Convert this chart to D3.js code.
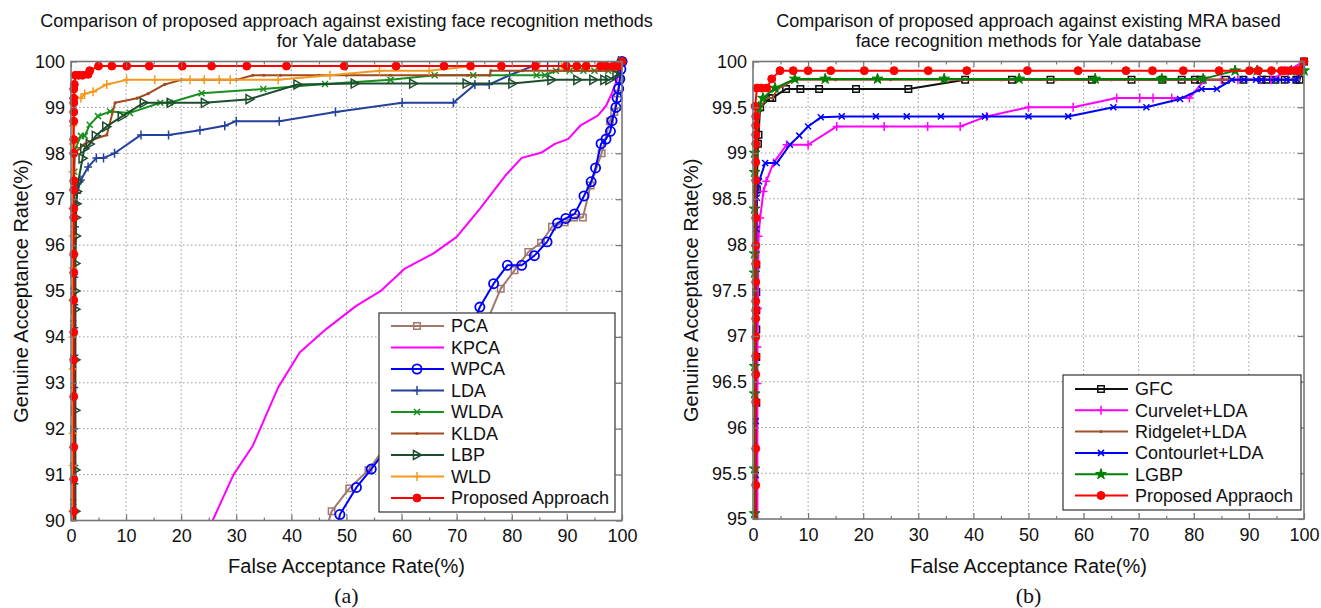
<!DOCTYPE html>
<html lang="en">
<head>
  <meta charset="UTF-8" />
  <title>Yale database ROC comparison</title>
  <script src="https://cdn.jsdelivr.net/npm/d3@7"></script>
  <style>
    body { margin: 0; background: #fff; }
    svg { display: block; font-family: Arial, "Liberation Sans", Helvetica, sans-serif; }
    .tick text { font-size: 18px; fill: #111; }
  </style>
</head>
<body>
<svg id="chart" width="1321" height="608"></svg>
<script>
// ---- data: [FAR %, GAR %] ----
var xTicks = [0, 10, 20, 30, 40, 50, 60, 70, 80, 90, 100];
var yTicksA = [90, 91, 92, 93, 94, 95, 96, 97, 98, 99, 100];
var yTicksB = [95, 95.5, 96, 96.5, 97, 97.5, 98, 98.5, 99, 99.5, 100];

var namesA = ["PCA", "KPCA", "WPCA", "LDA", "WLDA", "KLDA", "LBP", "WLD", "Proposed Approach"];
var namesB = ["GFC", "Curvelet+LDA", "Ridgelet+LDA", "Contourlet+LDA", "LGBP", "Proposed Appraoch"];

var pca = [[46.3,89.8],[47.3,90.2],[50.5,90.7],[54,91.1],[57,91.6],[60,92.1],[63,92.6],[66,93.0],[69,93.4],[72,93.8],[75,94.2],
  [78,95.05],[80.5,95.45],[83,95.85],[85.3,96.05],[87.3,96.4],[89.6,96.5],[91.3,96.6],[92.9,96.6],[94.3,97.3],[96.3,98.0],
  [97.8,98.7],[98.6,98.9],[99.2,99.3],[99.6,99.6],[100,100]];
var kpca = [[25.5,89.9],[25.7,90],[29.5,91.0],[33,91.63],[37.6,92.9],[41.5,93.66],[46.3,94.17],[51.7,94.67],[56.3,95.01],[60.5,95.48],
  [65.8,95.82],[70,96.18],[74.2,96.79],[78.8,97.51],[81.8,97.9],[85.3,98.01],[87.9,98.21],[90.2,98.31],[92.5,98.61],
  [95.6,98.82],[97.1,99.03],[98.2,99.32],[99,99.58],[100,100]];
var wpca = [[48.3,89.8],[48.8,90.13],[51.8,90.72],[54.5,91.12],[57.5,91.6],[60.5,92.1],[63.5,92.6],[66.5,93.0],[69.5,93.5],[72,94.0],
  [74.2,94.65],[76.7,95.16],[79.2,95.56],[81.8,95.56],[84.1,95.77],[86.4,96.07],[88.3,96.48],[89.8,96.58],[91.4,96.68],
  [93.1,97.07],[94.4,97.38],[95.2,97.68],[96.2,98.21],[97.1,98.31],[97.9,98.48],[98.2,98.71],[98.9,99.0],[99.1,99.21],
  [99.4,99.41],[99.6,99.62],[99.8,99.83],[100,100]];
var lda = [[0.6,89.5],[0.6,90.8],[0.6,91.2],[0.6,92.0],[0.6,92.9],[0.6,93.6],[0.6,94.2],[0.6,94.7],[0.6,95.3],[0.6,95.8],[0.7,96.4],
  [0.8,96.9],[1.1,97.13],[1.8,97.42],[3.1,97.7],[4.6,97.9],[5.9,97.9],[7.9,98.0],[12.7,98.4],[17.7,98.4],[23.4,98.5],
  [27.9,98.6],[30,98.7],[37.8,98.7],[48,98.9],[60.1,99.1],[69.4,99.1],[73.3,99.5],[75.9,99.5],[79.6,99.7],[83.8,99.9],
  [86.5,99.9],[88.5,99.9],[92,99.9],[96,99.9],[100,100]];
var wlda = [[0.4,89.5],[0.4,90.4],[0.4,91.2],[0.4,92.0],[0.4,93.4],[0.4,94.3],[0.4,95.0],[0.4,95.8],[0.5,96.6],[0.5,97.2],[0.6,97.6],
  [0.7,98.08],[1.8,98.38],[2.5,98.38],[3.4,98.62],[4.9,98.81],[7.1,98.91],[10.7,98.88],[16.2,99.1],[17.9,99.1],[23.7,99.31],
  [34.9,99.4],[46.1,99.51],[58,99.6],[66,99.7],[73,99.7],[84.5,99.7],[86,99.7],[88,99.8],[90.5,99.8],[93,99.8],[95,99.8],
  [97.5,99.8],[99.5,99.9],[100,100]];
var klda = [[0.5,89.5],[0.5,90.5],[0.5,92.0],[0.5,93.5],[0.5,95.0],[0.5,96.5],[0.5,97.5],[0.6,98.0],[1.5,98.1],[2.5,98.2],[4,98.3],
  [6.5,98.4],[8,99.1],[12,99.2],[14,99.3],[17,99.5],[20,99.6],[24,99.6],[27,99.6],[30,99.6],[33,99.7],[35,99.7],[38,99.7],
  [45,99.7],[50,99.7],[58,99.7],[66,99.7],[72,99.7],[76,99.7],[76.2,99.8],[82,99.8],[88,99.8],[94,99.8],[99,99.8],[100,100]];
var lbp = [[0.8,89.5],[0.8,90.2],[0.8,91.1],[0.8,92.4],[0.8,93.5],[0.8,94.6],[0.8,95.0],[0.8,95.6],[0.9,96.2],[0.9,96.6],[1.0,96.9],
  [1.1,97.17],[1.3,97.38],[2.1,97.89],[2.4,98.1],[3.4,98.2],[4.5,98.38],[6.4,98.58],[9.2,98.8],[13.2,99.1],[18.1,99.1],
  [24.3,99.1],[32.4,99.18],[41.1,99.5],[51.5,99.52],[62.1,99.52],[71.8,99.52],[80.1,99.52],[87.2,99.6],[91.9,99.6],
  [94.8,99.6],[96.8,99.6],[97.7,99.6],[99,99.7],[100,100]];
var wld = [[0.3,89.5],[0.3,90.2],[0.3,91.2],[0.3,91.9],[0.3,93.3],[0.3,94.0],[0.3,94.8],[0.3,95.5],[0.3,96.2],[0.3,96.8],[0.3,97.6],
  [0.3,98.2],[0.4,98.6],[0.7,99.23],[1.8,99.2],[2.5,99.3],[4,99.34],[6.5,99.5],[10.1,99.6],[15.2,99.6],[21.6,99.6],
  [24.2,99.6],[26.9,99.6],[28.9,99.6],[37.6,99.6],[47,99.7],[56,99.8],[65,99.8],[73,99.9],[78,99.9],[84,99.9],[89,99.9],
  [94,99.9],[96.5,99.9],[98.5,99.9],[100,100]];
var proposedA = [[0.5,89.5],[0.5,90.2],[0.5,90.9],[0.5,91.6],[0.5,92.7],[0.5,93.5],[0.5,94.1],[0.5,94.8],[0.5,95.4],[0.5,95.8],
  [0.5,96.6],[0.5,96.8],[0.5,97.2],[0.5,97.4],[0.5,98.0],[0.5,98.3],[0.5,98.7],[0.5,98.9],[0.5,99.1],[0.5,99.2],[0.5,99.4],
  [0.6,99.5],[0.8,99.7],[1.4,99.7],[2.1,99.7],[3.1,99.72],[3.4,99.8],[5.0,99.9],[7.4,99.9],[10.1,99.9],[14.2,99.9],
  [20.2,99.9],[25.5,99.9],[31.9,99.9],[39.1,99.9],[49.6,99.9],[59,99.9],[67.7,99.9],[72.5,99.9],[78.1,99.9],[84.3,99.9],
  [89.9,99.9],[91.8,99.9],[93.5,99.9],[96.1,99.9],[97.1,99.9],[98.4,99.9],[99.3,99.9],[100,100]];

var gfc = [[0.6,94.5],[0.6,96.27],[0.6,96.77],[0.6,97.07],[0.6,97.28],[0.6,97.48],[0.6,97.78],[0.7,98.6],[0.9,99.1],[1.0,99.2],
  [1.3,99.5],[3.1,99.6],[3.5,99.6],[6,99.7],[8.6,99.7],[12,99.7],[18.7,99.7],[28.2,99.7],[38.5,99.8],[47,99.8],[54,99.8],
  [61.5,99.8],[68.7,99.8],[74.3,99.8],[77.8,99.8],[80.2,99.8],[81.2,99.8],[85.8,99.8],[89,99.8],[92.3,99.8],[93.2,99.8],
  [94.8,99.8],[96.5,99.8],[98.6,99.8],[99.2,99.8],[100,100]];
var curvelet = [[0.8,94.5],[0.8,96.48],[0.8,96.88],[0.9,97.3],[1.0,98.09],[1.3,98.29],[1.9,98.58],[2.4,98.69],[3.7,98.89],
  [6.1,99.09],[10,99.09],[15.2,99.29],[23.8,99.29],[31.7,99.29],[37.6,99.29],[42.4,99.4],[50,99.5],[58.1,99.5],[66,99.6],
  [70.2,99.6],[72.6,99.6],[76,99.6],[79.2,99.6],[82,99.8],[85,99.8],[88,99.8],[92,99.8],[94,99.8],[97,99.9],[100,100]];
var ridgelet = [[0.5,94.5],[0.5,95.8],[0.5,96.5],[0.5,97.0],[0.5,97.5],[0.5,98.0],[0.5,98.5],[0.6,99.0],[0.8,99.3],[1.3,99.5],
  [2.5,99.6],[3.5,99.6],[4.5,99.7],[7.5,99.8],[15,99.8],[25,99.8],[35,99.8],[45,99.8],[55,99.8],[65,99.8],[75,99.8],
  [85,99.8],[95,99.8],[99,99.8],[99.5,99.9],[100,100]];
var contourlet = [[0.5,94.5],[0.5,95.48],[0.5,96.07],[0.6,98.17],[0.7,98.51],[1.1,98.69],[2.2,98.89],[4.3,98.89],[6.7,99.09],
  [8.4,99.19],[10,99.29],[12.3,99.39],[16.1,99.4],[22.3,99.4],[27.9,99.4],[34.1,99.4],[42.1,99.4],[50,99.4],[57.2,99.4],
  [65.4,99.5],[71.4,99.5],[77.5,99.59],[81.4,99.7],[84.2,99.7],[86.9,99.8],[89.1,99.8],[91.3,99.8],[92.3,99.8],[94.9,99.8],
  [96.9,99.8],[98.7,99.8],[100,100]];
var lgbp = [[0.3,94.5],[0.3,95.06],[0.3,95.55],[0.3,96.37],[0.3,96.67],[0.3,97.69],[0.3,97.9],[0.3,98.39],[0.3,98.79],[0.3,99.0],
  [1.0,99.5],[1.8,99.6],[4.0,99.71],[7.6,99.81],[13.1,99.81],[22.6,99.81],[34.7,99.81],[48.3,99.81],[62.1,99.81],
  [74.2,99.81],[81.7,99.81],[87.5,99.9],[91.5,99.9],[97.7,99.9],[99.2,99.9],[100,99.9]];
var proposedB = [[0.5,94.5],[0.5,95.37],[0.5,95.77],[0.5,96.28],[0.5,96.58],[0.5,96.78],[0.5,96.99],[0.5,97.19],[0.5,97.28],
  [0.5,97.38],[0.5,97.59],[0.5,97.79],[0.5,97.99],[0.5,98.29],[0.5,98.7],[0.5,98.9],[0.5,99.1],[0.5,99.2],[0.5,99.3],
  [0.5,99.4],[0.4,99.51],[0.7,99.71],[1.5,99.71],[2.5,99.71],[3.4,99.81],[4.9,99.9],[7.3,99.9],[10,99.9],[14.1,99.9],
  [20.2,99.9],[25.6,99.9],[31.8,99.9],[38.8,99.9],[49.8,99.9],[59,99.9],[67.7,99.9],[72.5,99.9],[78.1,99.9],[84.6,99.9],
  [90.1,99.9],[91.7,99.9],[94.1,99.9],[95.9,99.9],[96.5,99.9],[97.5,99.9],[98.7,99.9],[99.1,99.9],[100,100]];

// ---- styles ----
var seriesA = [pca, kpca, wpca, lda, wlda, klda, lbp, wld, proposedA];
var colorsA = ["#a0786e", "#ff00ff", "#0000ff", "#24429c", "#17901c", "#a24a1e", "#1c4d2c", "#f39a1e", "#ff0000"];
var markersA = ["square", null, "circle", "plus", "cross", "dot", "triangle", "plus", "filled"];
var seriesB = [gfc, curvelet, ridgelet, contourlet, lgbp, proposedB];
var colorsB = ["#111111", "#ff00ff", "#a0522d", "#0000ff", "#008000", "#ff0000"];
var markersB = ["square", "plus", "dot", "cross", "star", "filled"];

var svg = d3.select("#chart");

function drawMarker(sel, type, color) {
  var p = sel.append("path").attr("stroke", color).attr("fill", "none").attr("stroke-width", 1.5);
  if (type === "square") p.attr("d", d3.symbol(d3.symbolSquare, 42)());
  else if (type === "circle") p.attr("d", d3.symbol(d3.symbolCircle, 66)()).attr("stroke-width", 1.8);
  else if (type === "plus") p.attr("d", "M-4,0H4M0,-4.5V4.5");
  else if (type === "cross") p.attr("d", "M-3,-3L3,3M-3,3L3,-3");
  else if (type === "triangle") p.attr("d", "M-3.5,-4.5L4.5,0L-3.5,4.5Z");
  else if (type === "dot") p.attr("d", d3.symbol(d3.symbolCircle, 8)()).attr("fill", color).attr("stroke", "none");
  else if (type === "filled") p.attr("d", d3.symbol(d3.symbolCircle, 50)()).attr("fill", color).attr("stroke-width", 1);
  else if (type === "star") p.attr("d", d3.symbol(d3.symbolStar, 36)()).attr("fill", color).attr("stroke-width", 1);
}

function drawPanel(cfg) {
  var g = svg.append("g");
  var x = d3.scaleLinear().domain([0, 100]).range([cfg.left, cfg.right]);
  var y = d3.scaleLinear().domain([cfg.yTicks[0], cfg.yTicks[cfg.yTicks.length - 1]]).range([cfg.bottom, cfg.top]);

  // dotted grid
  g.append("g").selectAll("line").data(xTicks.slice(1, -1)).join("line")
    .attr("x1", d => x(d)).attr("x2", d => x(d)).attr("y1", cfg.top).attr("y2", cfg.bottom)
    .attr("stroke", "#9a9a9a").attr("stroke-dasharray", "1.5,2.5");
  g.append("g").selectAll("line").data(cfg.yTicks.slice(1, -1)).join("line")
    .attr("y1", d => y(d)).attr("y2", d => y(d)).attr("x1", cfg.left).attr("x2", cfg.right)
    .attr("stroke", "#9a9a9a").attr("stroke-dasharray", "1.5,2.5");

  var clipId = "clip" + cfg.id;
  svg.append("clipPath").attr("id", clipId).append("rect")
    .attr("x", cfg.left).attr("y", cfg.top - 2).attr("width", cfg.right - cfg.left + 2).attr("height", cfg.bottom - cfg.top + 2);

  var line = d3.line().x(d => x(d[0])).y(d => y(d[1]));
  var yMin = cfg.yTicks[0];
  cfg.series.forEach(function (data, i) {
    g.append("path").datum(data).attr("d", line).attr("clip-path", "url(#" + clipId + ")")
      .attr("fill", "none").attr("stroke", cfg.colors[i]).attr("stroke-width", 2).attr("stroke-linejoin", "round");
    if (cfg.markers[i]) {
      g.append("g").selectAll("g").data(data.filter(d => d[1] >= yMin)).join("g")
        .attr("transform", d => "translate(" + x(d[0]) + "," + y(d[1]) + ")")
        .each(function () { drawMarker(d3.select(this), cfg.markers[i], cfg.colors[i]); });
    }
  });

  // axes, MATLAB style ticks inside on all four sides
  var axisColor = "#777";
  var minor = d3.range(5, 100, 10);
  var fmt = d3.format("~g");
  g.append("g").attr("transform", "translate(0," + cfg.bottom + ")")
    .call(d3.axisBottom(x).tickValues(xTicks).tickSize(-6).tickPadding(9).tickFormat(fmt));
  g.append("g").attr("transform", "translate(0," + cfg.bottom + ")")
    .call(d3.axisBottom(x).tickValues(minor).tickSize(-3).tickFormat(""));
  g.append("g").attr("transform", "translate(0," + cfg.top + ")")
    .call(d3.axisTop(x).tickValues(xTicks).tickSize(-6).tickFormat(""));
  g.append("g").attr("transform", "translate(0," + cfg.top + ")")
    .call(d3.axisTop(x).tickValues(minor).tickSize(-3).tickFormat(""));
  g.append("g").attr("transform", "translate(" + cfg.left + ",0)")
    .call(d3.axisLeft(y).tickValues(cfg.yTicks).tickSize(-6).tickPadding(6).tickFormat(fmt));
  g.append("g").attr("transform", "translate(" + cfg.right + ",0)")
    .call(d3.axisRight(y).tickValues(cfg.yTicks).tickSize(-6).tickFormat(""));
  g.selectAll(".domain").remove();
  g.selectAll(".tick line").attr("stroke", axisColor).attr("stroke-width", 1.2);

  g.append("rect").attr("x", cfg.left).attr("y", cfg.top)
    .attr("width", cfg.right - cfg.left).attr("height", cfg.bottom - cfg.top)
    .attr("fill", "none").attr("stroke", axisColor).attr("stroke-width", 1.6);

  // legend
  var lg = g.append("g").attr("transform", "translate(" + cfg.legend.x + "," + cfg.legend.y + ")");
  lg.append("rect").attr("width", cfg.legend.w).attr("height", cfg.legend.h)
    .attr("fill", "#fff").attr("stroke", "#333").attr("stroke-width", 1.2);
  cfg.names.forEach(function (name, i) {
    var row = lg.append("g").attr("transform", "translate(0," + (cfg.legend.first + i * cfg.legend.step) + ")");
    row.append("line").attr("x1", 12).attr("x2", 65).attr("stroke", cfg.colors[i]).attr("stroke-width", 2);
    if (cfg.markers[i]) {
      var m = row.append("g").attr("transform", "translate(38,0)");
      drawMarker(m, cfg.markers[i], cfg.colors[i]);
    }
    row.append("text").attr("x", 72).attr("dy", "0.36em").attr("font-size", 18).attr("fill", "#111").text(name);
  });

  // titles
  var cx = (cfg.left + cfg.right) / 2;
  cfg.title.forEach(function (t, i) {
    g.append("text").attr("x", cx).attr("y", 27 + i * 20).attr("text-anchor", "middle")
      .attr("font-size", 18).attr("fill", "#111").text(t);
  });
  g.append("text").attr("x", cx).attr("y", 573).attr("text-anchor", "middle")
    .attr("font-size", 20).attr("fill", "#111").text("False Acceptance Rate(%)");
  g.append("text").attr("transform", "translate(" + cfg.yTitleX + "," + ((cfg.top + cfg.bottom) / 2) + ") rotate(-90)")
    .attr("text-anchor", "middle").attr("font-size", 20).attr("fill", "#111").text("Genuine Acceptance Rate(%)");
  g.append("text").attr("x", cx).attr("y", 603).attr("text-anchor", "middle")
    .attr("font-family", "'Times New Roman', 'Liberation Serif', serif").attr("font-size", 22)
    .attr("fill", "#111").text(cfg.caption);
}

drawPanel({
  id: "a", left: 71, right: 622, top: 61.5, bottom: 520.5, yTicks: yTicksA,
  series: seriesA, colors: colorsA, markers: markersA, names: namesA,
  legend: { x: 379, y: 313, w: 236, h: 199, first: 13, step: 21.5 },
  title: ["Comparison of proposed approach against existing face recognition methods", "for Yale database"],
  yTitleX: 28, caption: "(a)"
});
drawPanel({
  id: "b", left: 753, right: 1304, top: 61.5, bottom: 519, yTicks: yTicksB,
  series: seriesB, colors: colorsB, markers: markersB, names: namesB,
  legend: { x: 1063, y: 375, w: 238, h: 135, first: 14, step: 21.3 },
  title: ["Comparison of proposed approach against existing MRA based", "face recognition methods for Yale database"],
  yTitleX: 698, caption: "(b)"
});
</script>
</body>
</html>
